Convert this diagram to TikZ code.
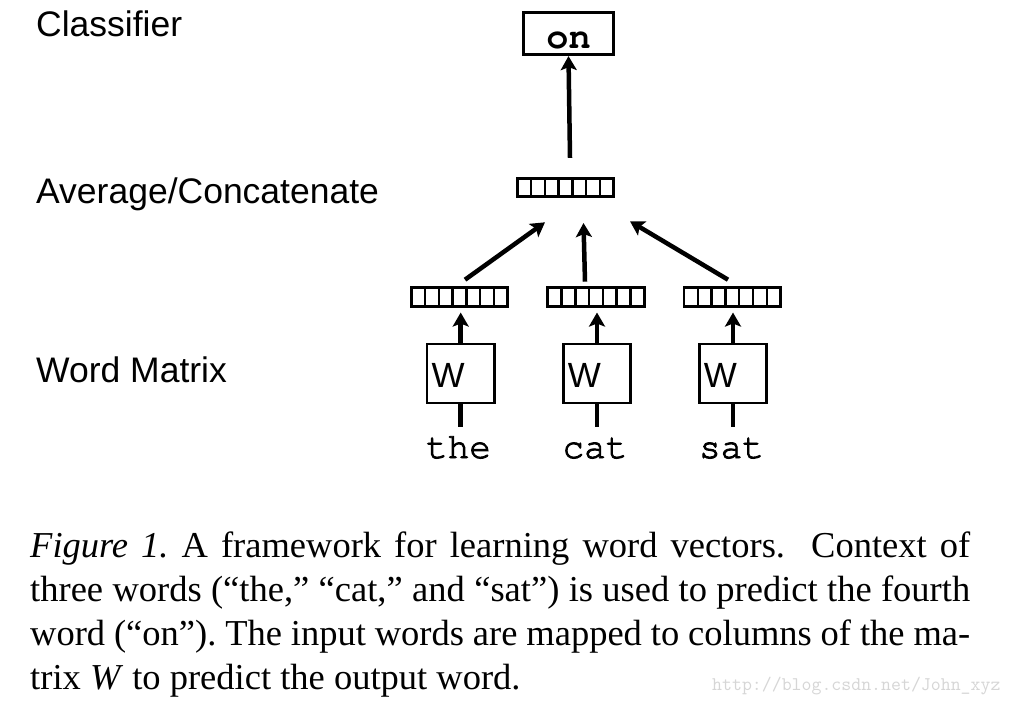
\documentclass[tikz,border=0pt]{standalone}
\usepackage[T1]{fontenc}
\usepackage{fontspec}
\usetikzlibrary{arrows.meta,calc}
\newfontfamily\lsans{Liberation Sans}
\newfontfamily\lserif{Liberation Serif}
\newcommand\mycourier{\fontencoding{T1}\fontfamily{pcr}\selectfont}
\newcommand\heavytext[1]{\special{pdf:literal direct 2 Tr 0.9 w}#1\special{pdf:literal direct 0 Tr}}
\begin{document}
\begin{tikzpicture}[x=1pt,y=-1pt,
  lbl/.style={anchor=base west, inner sep=0, font=\lsans\fontsize{35.5}{40}\selectfont},
  vec/.style={draw, line width=2.6pt, minimum width=96.5pt, minimum height=18.5pt, inner sep=0,
    path picture={\foreach \i in {1,...,6}{\draw[line width=2.5pt]
      ($(path picture bounding box.south west)!\i/7!(path picture bounding box.south east)$) --
      ($(path picture bounding box.north west)!\i/7!(path picture bounding box.north east)$);}}},
  wbox/.style={draw, line width=2.6pt, minimum width=67.4pt, minimum height=59pt, inner xsep=4.5pt,
    inner ysep=0pt, text width=58.4pt, align=left, text height=27pt, text depth=0pt,
    font=\lsans\fontsize{35}{38}\selectfont},
  word/.style={anchor=base, inner sep=0, text height=31pt, font=\mycourier\fontsize{36}{40}\selectfont},
  arr/.style={line width=4.5pt, -{Stealth[length=14pt,width=16pt,inset=3pt]}},
  ln/.style={line width=4.5pt}]
\useasboundingbox[fill=white] (0,0) rectangle (1016,714);

% left labels
\node[lbl] (cls) at (36,36.7) {Classifier};
\node[lbl] (avgl) at (36,203) {Average/Concatenate};
\node[lbl] (wml) at (36,382.7) {Word Matrix};

% output
\node[draw, line width=2.7pt, minimum width=90.5pt, minimum height=42.5pt, inner sep=0,
  text height=29.6pt, text depth=0pt, font=\mycourier\bfseries\fontsize{37}{40}\selectfont] (on) at (568.5,33.5) {on};

% vectors
\node[vec] (avg) at (565.5,187.5) {};
\node[vec] (v1) at (459.5,297) {};
\node[vec] (v2) at (596,297) {};
\node[vec] (v3) at (732.3,297) {};

% W boxes
\node[wbox] (w1) at (460.7,373.5) {W};
\node[wbox] (w2) at (597,373.5) {W};
\node[wbox] (w3) at (733,373.5) {W};

% words
\node[word] (the) at (458.5,458) {\heavytext{the}};
\node[word] (cat) at (595,458) {\heavytext{cat}};
\node[word] (sat) at (731.5,458) {\heavytext{sat}};

% connectors
\draw[ln] (the.north -| w1.south) -- (w1.south);
\draw[ln] (cat.north -| w2.south) -- (w2.south);
\draw[ln] (sat.north -| w3.south) -- (w3.south);
\draw[arr, shorten >=5pt] (w1.north) -- (w1.north |- v1.south);
\draw[arr, shorten >=5pt] (w2.north) -- (w2.north |- v2.south);
\draw[arr, shorten >=5pt] (w3.north) -- (w3.north |- v3.south);
\draw[arr] ([xshift=5.5pt,yshift=6.75pt]v1.north) -- ([xshift=-20.5pt,yshift=-24.25pt]avg.south);
\draw[arr] ([xshift=-11pt,yshift=4.75pt]v2.north) -- ([xshift=18pt,yshift=-25pt]avg.south);
\draw[arr] ([xshift=-4.3pt,yshift=6.75pt]v3.north) -- ([xshift=64.5pt,yshift=-23.25pt]avg.south);
\draw[arr] ([xshift=4.5pt,yshift=19pt]avg.north) -- (on.south);

% caption
\node[anchor=north west, inner sep=0] (cap) at (30,532) {\parbox{940pt}{\lserif\fontsize{36.5}{44}\selectfont
\hbox to 940pt{\textit{Figure 1.}\ A framework for learning word vectors.\ \ Context of}%
\hbox to 940pt{three words (“the,” “cat,” and “sat”) is used to predict the fourth}%
\hbox to 940pt{word (“on”).\ The input words are mapped to columns of the ma-}%
\hbox{trix \textit{W} to predict the output word.}}};

% watermark
\node[anchor=base west, inner sep=0, text=black!16, font=\ttfamily\fontsize{19.3}{20}\selectfont] (wm) at (712,690) {http://blog.csdn.net/John\_xyz};
\end{tikzpicture}
\end{document}
